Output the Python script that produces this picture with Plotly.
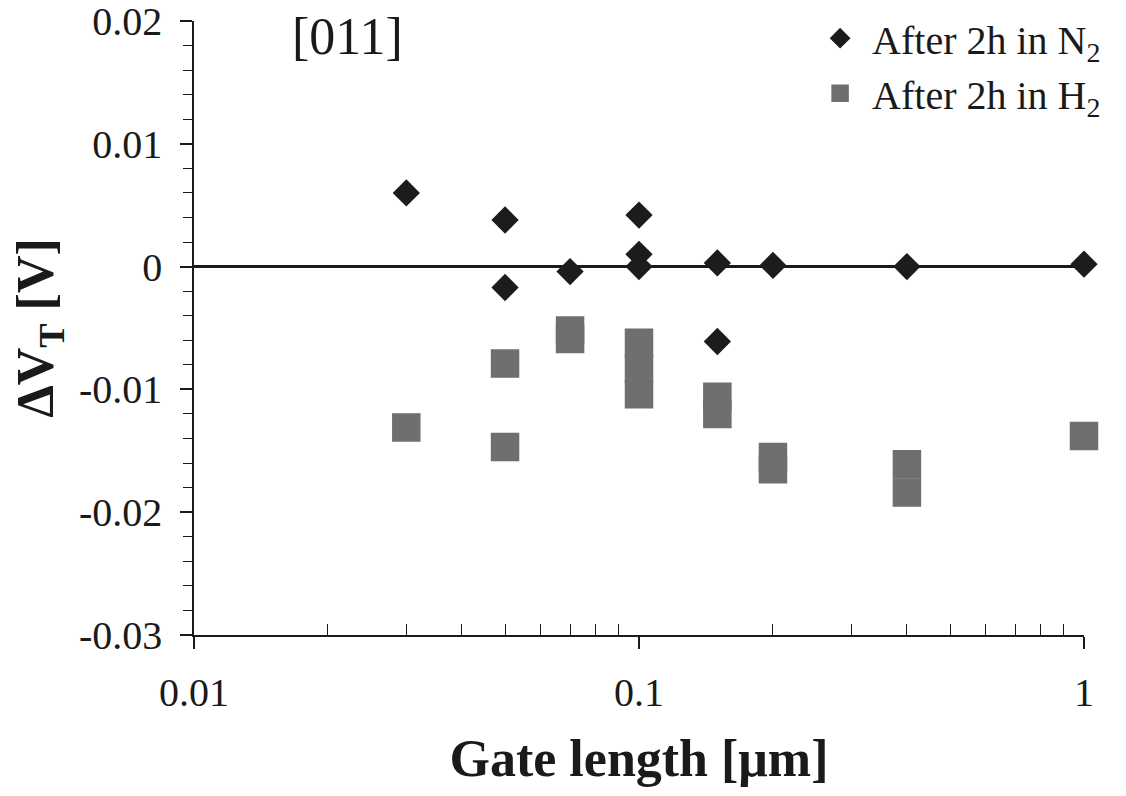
import plotly.graph_objects as go

# Data
n2_gate = [0.03, 0.05, 0.05, 0.07, 0.1, 0.1, 0.1, 0.15, 0.15, 0.2, 0.4, 1.0]
n2_dvt = [0.0060, 0.0038, -0.0017, -0.0004, 0.0042, 0.0010, 0.0000,
          0.0003, -0.0061, 0.0001, 0.0000, 0.0002]

h2_gate = [0.03, 0.05, 0.05, 0.07, 0.07, 0.1, 0.1, 0.1, 0.15, 0.15,
           0.2, 0.2, 0.4, 0.4, 1.0]
h2_dvt = [-0.0131, -0.0079, -0.0147, -0.0052, -0.0059, -0.0062, -0.0083,
          -0.0104, -0.0106, -0.0120, -0.0155, -0.0165, -0.0161, -0.0184,
          -0.0138]

y_ticks = [-0.03, -0.02, -0.01, 0.0, 0.01, 0.02]
y_ticktext = ["-0.03", "-0.02", "-0.01", "0", "0.01", "0.02"]
x_ticks = [0.01, 0.1, 1]
x_ticktext = ["0.01", "0.1", "1"]
x_minor = [m * d for d in (0.01, 0.1) for m in range(2, 10)]

SERIF = "Liberation Serif, Times New Roman, serif"
INK = "#1a1a1a"

fig = go.Figure()
fig.add_trace(go.Scatter(
    x=h2_gate, y=h2_dvt, mode="markers", name="After 2h in H<sub>2</sub>",
    cliponaxis=False,
    marker=dict(symbol="square", size=27, color="#6f6f6f",
                line=dict(width=1.5, color="#6f6f6f")),
))
fig.add_trace(go.Scatter(
    x=n2_gate, y=n2_dvt, mode="markers", name="After 2h in N<sub>2</sub>",
    cliponaxis=False,
    marker=dict(symbol="diamond", size=21, color="#1c1c1c", line=dict(width=0)),
))

fig.update_layout(
    width=1126, height=796,
    margin=dict(l=194, r=42, t=21, b=161, autoexpand=False),
    paper_bgcolor="white", plot_bgcolor="white",
    font=dict(family=SERIF, color=INK, size=40),
    showlegend=True,
    legend=dict(
        x=0.69, y=1.025, xanchor="left", yanchor="top",
        bgcolor="rgba(0,0,0,0)", font=dict(family=SERIF, size=40, color=INK),
        traceorder="reversed", itemwidth=54, tracegroupgap=0,
    ),
    xaxis=dict(
        type="log", range=[-2, 0], automargin=False,
        showgrid=False, zeroline=False,
        showline=True, linecolor=INK, linewidth=1.5,
        ticks="outside", ticklen=12, tickwidth=1.5, tickcolor=INK,
        tickvals=x_ticks, ticktext=x_ticktext,
        ticklabelstandoff=9, ticklabeloverflow="allow",
        minor=dict(tickvals=x_minor, ticks="inside", ticklen=11,
                   tickwidth=1.2, tickcolor=INK, showgrid=False),
        title=dict(text="<b>Gate length [μm]</b>",
                   font=dict(family=SERIF, size=52, color=INK), standoff=26),
    ),
    yaxis=dict(
        range=[-0.03001, 0.02001], automargin=False,
        showgrid=False,
        zeroline=True, zerolinecolor=INK, zerolinewidth=3.2,
        showline=True, linecolor=INK, linewidth=1.5,
        ticks="outside", ticklen=12, tickwidth=1.5, tickcolor=INK,
        tickvals=y_ticks, ticktext=y_ticktext,
        ticklabelstandoff=10, ticklabeloverflow="allow",
        minor=dict(dtick=0.002, ticks="outside", ticklen=9,
                   tickwidth=1.2, tickcolor=INK, showgrid=False),
        title=dict(text="<b>ΔV<sub>T</sub> [V]</b>",
                   font=dict(family=SERIF, size=52, color=INK), standoff=9),
    ),
    annotations=[dict(
        text="[011]", xref="paper", yref="paper", x=0.172, y=0.974,
        xanchor="center", yanchor="middle", showarrow=False,
        font=dict(family=SERIF, size=52, color=INK),
    )],
)

fig.write_html("out.html")
